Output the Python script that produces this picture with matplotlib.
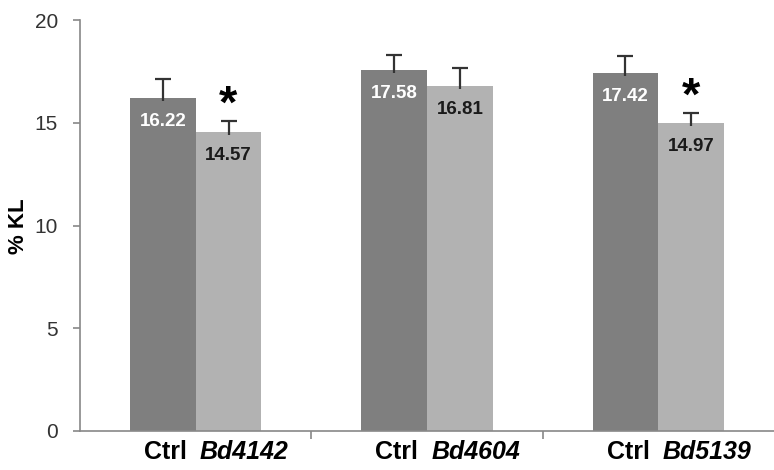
import matplotlib.pyplot as plt
import numpy as np

# data
genes = ['Bd4142', 'Bd4604', 'Bd5139']
ctrl = [16.22, 17.58, 17.42]
mutant = [14.57, 16.81, 14.97]
ctrl_err = [0.9, 0.7, 0.83]
mutant_err = [0.5, 0.85, 0.5]
signif = [True, False, True]

plt.rcParams['font.family'] = ['Liberation Sans', 'DejaVu Sans']

fig = plt.figure(figsize=(7.74, 4.70), dpi=100)
ax = fig.add_axes([80/774, 1 - 431/470, 694/774, 411/470])

x = np.arange(len(genes))
w = 0.284
dark = '#7f7f7f'
light = '#b2b2b2'
ecol = '#333333'

ax.bar(x - w/2, ctrl, w, color=dark, zorder=1)
ax.bar(x + w/2, mutant, w, color=light, zorder=1)

# upper error bars only (no cap at the bar top)
for xs, vals, errs in [(x - w/2, ctrl, ctrl_err), (x + w/2, mutant, mutant_err)]:
    tops = np.array(vals) + np.array(errs)
    ax.vlines(xs, np.array(vals) - 0.15, tops, color=ecol, lw=1.6, zorder=2)
    ax.plot(xs, tops, ls='none', marker='_', ms=11, mew=1.6, color=ecol, zorder=2)

# value labels inside bars
for i in range(len(genes)):
    ax.annotate(f'{ctrl[i]:.2f}', (x[i] - w/2, ctrl[i]), xytext=(0, -17),
                textcoords='offset points', ha='center', va='center',
                color='white', fontsize=13.5, fontweight='bold', zorder=3)
    ax.annotate(f'{mutant[i]:.2f}', (x[i] + w/2, mutant[i]), xytext=(0, -17),
                textcoords='offset points', ha='center', va='center',
                color='#1a1a1a', fontsize=13.5, fontweight='bold', zorder=3)
    if signif[i]:
        ax.annotate('*', (x[i] + w/2, mutant[i] + mutant_err[i]), xytext=(0, 11),
                    textcoords='offset points', ha='center', va='center',
                    color='black', fontsize=34, fontweight='bold')

# category labels
for i, g in enumerate(genes):
    ax.text(x[i] - 0.13, -0.05, 'Ctrl', transform=ax.get_xaxis_transform(),
            ha='center', va='center', fontsize=18, fontweight='bold')
    ax.text(x[i] + 0.21, -0.05, g, transform=ax.get_xaxis_transform(),
            ha='center', va='center', fontsize=18, fontweight='bold', style='italic')

ax.set_xlim(-0.5, 2.5)
ax.set_ylim(0, 20)
ax.set_yticks([0, 5, 10, 15, 20])
ax.set_xticks([0.5, 1.5])
ax.set_xticklabels([])
ax.tick_params(axis='y', labelsize=15, colors='#888888', labelcolor='#333333',
               length=5, width=1.2, pad=11)
ax.tick_params(axis='x', colors='#888888', length=6, width=1.2)

for s in ['top', 'right']:
    ax.spines[s].set_visible(False)
for s in ['left', 'bottom']:
    ax.spines[s].set_color('#888888')
    ax.spines[s].set_linewidth(1.2)

fig.text(18/774, 1 - 226/470, '% KL', rotation=90, ha='center', va='center',
         fontsize=16, fontweight='bold')

plt.savefig('out.png', dpi=100)
